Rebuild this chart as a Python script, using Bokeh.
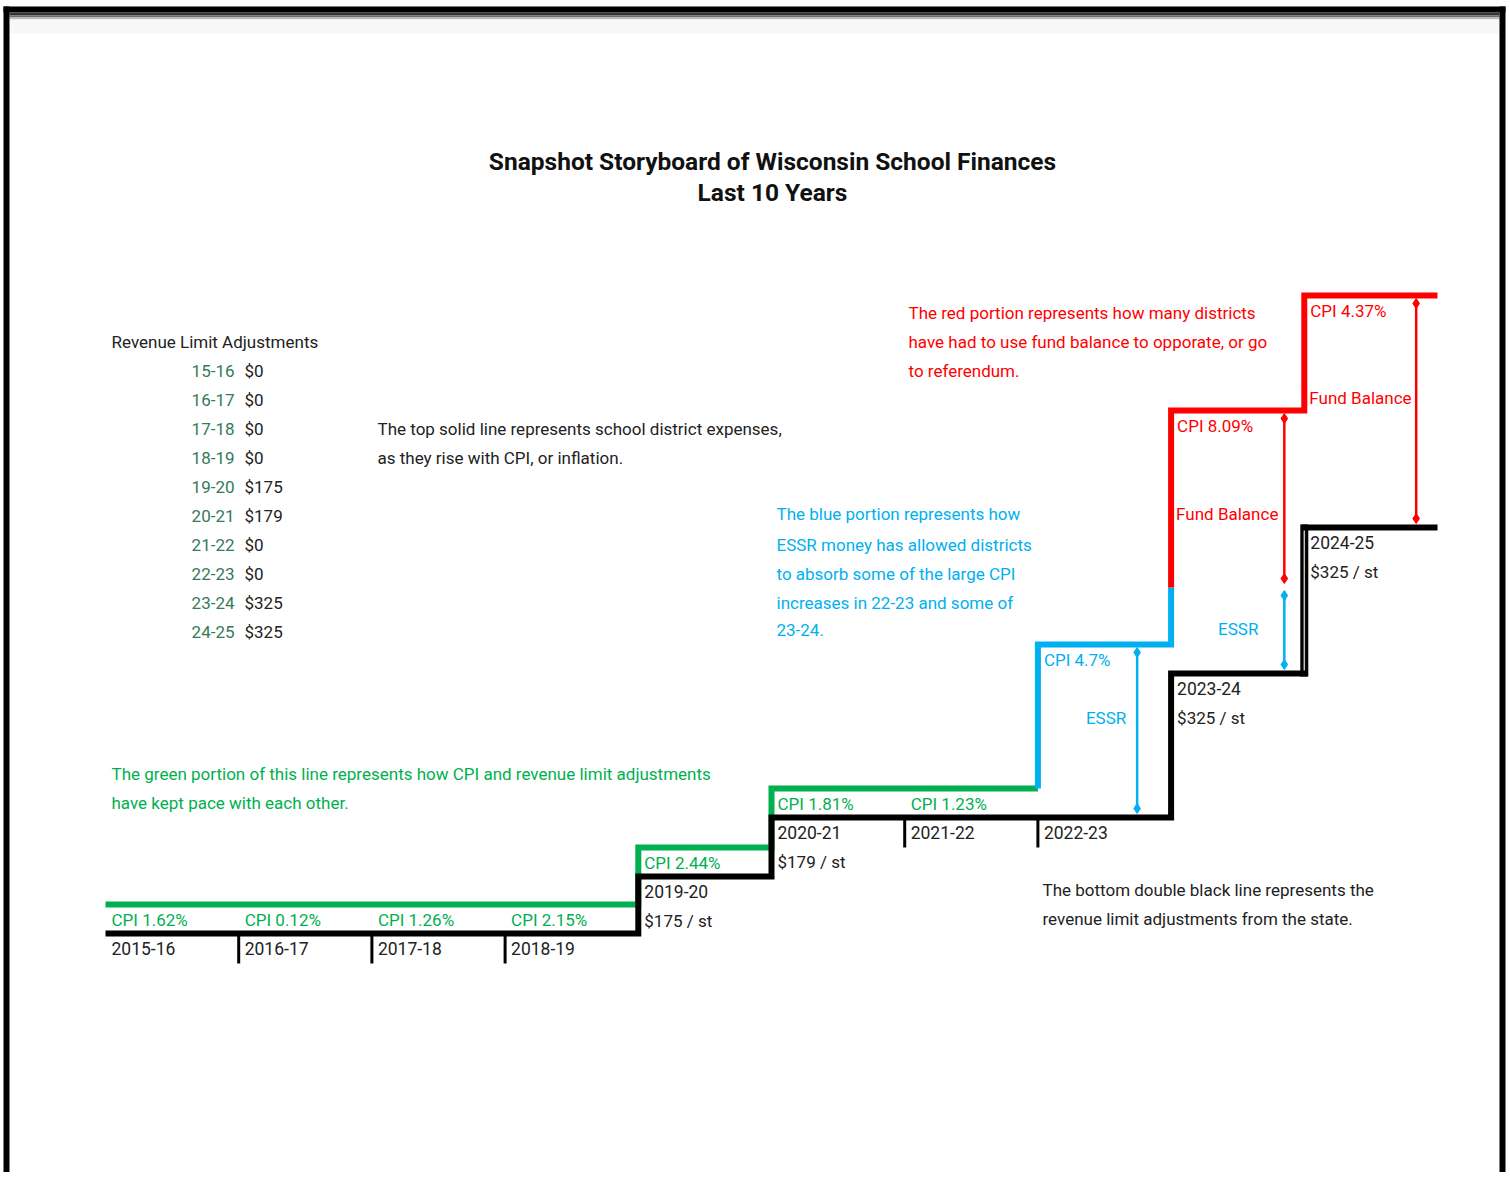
from bokeh.plotting import figure
from bokeh.models import Range1d
from bokeh.embed import file_html
from bokeh.resources import INLINE
from bokeh.core.properties import value

# ---------------- data ----------------
years = ["2015-16", "2016-17", "2017-18", "2018-19", "2019-20",
         "2020-21", "2021-22", "2022-23", "2023-24", "2024-25"]
cpi_labels = ["CPI 1.62%", "CPI 0.12%", "CPI 1.26%", "CPI 2.15%", "CPI 2.44%",
              "CPI 1.81%", "CPI 1.23%", "CPI 4.7%", "CPI 8.09%", "CPI 4.37%"]
adjustment = [0, 0, 0, 0, 175, 179, 0, 0, 325, 325]
# schematic step heights of the two lines (bottom: revenue limit, top: expenses)
revenue_level = [0, 0, 0, 0, 57, 116, 116, 116, 260, 406]
expense_level = [29, 29, 29, 29, 86, 145, 145, 289, 523, 638]
cpi_years = [0, 1, 2, 3, 4, 5, 6]
essr_years = [7, 8]
essr_low = [116, 260]
essr_high = [289, 346]
fund_years = [8, 9]
fund_low = [346, 406]
fund_high = [523, 638]

GREEN = "#00b050"
BLUE = "#00b0f0"
RED = "#ff0000"
BLACK = "#000000"
DARK = "#222222"
TEAL = "#357a5a"
FONT = value("Roboto")

W, H = 1506, 1172
STEP = 133.2      # pixels per school year
X0 = 105          # left edge of first year (px)
Y0 = 933          # baseline of bottom line (px)


def X(page_x):
    return (page_x - X0) / STEP


def Y(page_y):
    return Y0 - page_y


p = figure(width=W, height=H, output_backend="svg", toolbar_location=None,
           x_range=Range1d(X(0), X(W)),
           y_range=Range1d(Y(H), Y(0)),
           min_border=0, background_fill_color="white",
           border_fill_color="white")
p.axis.visible = False
p.grid.visible = False
p.outline_line_color = None

# ---------------- page frame ----------------
def band(x0, x1, y0, y1, color):
    p.quad(left=[X(x0)], right=[X(x1)], top=[Y(y0)], bottom=[Y(y1)],
           fill_color=color, line_color=None)


band(3, 1505, 6, 12, "#000000")
band(9, 1499, 12, 15, "#333333")
band(9, 1499, 15, 17, "#6a6a6a")
band(9, 1499, 17, 19, "#bdbdbd")
band(9, 1499, 19, 33, "#f7f7f7")
band(3, 9, 6, H, "#000000")
band(1499, 1505, 6, H, "#000000")


def step_points(levels, i0, i1):
    xs, ys = [], []
    for i in range(i0, i1):
        xs += [i, i + 1]
        ys += [levels[i], levels[i]]
    return xs, ys


# ---------------- top line (expenses) ----------------
gx, gy = step_points(expense_level, cpi_years[0], cpi_years[-1] + 1)
p.line(gx, gy, line_color=GREEN, line_width=6, line_join="miter")

bx = [essr_years[0], essr_years[0], essr_years[0] + 1, essr_years[1]]
by = [expense_level[essr_years[0] - 1], expense_level[essr_years[0]],
      expense_level[essr_years[0]], essr_high[1]]
p.line(bx, by, line_color=BLUE, line_width=6, line_join="miter")

rx = [fund_years[0], fund_years[0], fund_years[0] + 1, fund_years[1], fund_years[1] + 1]
ry = [fund_low[0], expense_level[fund_years[0]], expense_level[fund_years[0]],
      expense_level[fund_years[1]], expense_level[fund_years[1]]]
p.line(rx, ry, line_color=RED, line_width=6, line_join="miter")

# ---------------- bottom line (revenue limit) ----------------
kx, ky = step_points(revenue_level, 0, len(years))
p.line(kx, ky, line_color=BLACK, line_width=6, line_join="miter")
# double line on the last step
last = len(years) - 1
p.segment(x0=[last], y0=[revenue_level[last - 1] - 3], x1=[last], y1=[revenue_level[last] + 3],
          line_color=BLACK, line_width=8)
p.segment(x0=[last], y0=[revenue_level[last - 1] + 3], x1=[last], y1=[revenue_level[last] - 3],
          line_color="#c4c4c4", line_width=1.5)

# ticks at year boundaries without a step
tick_x = [i for i in range(1, len(years)) if revenue_level[i] == revenue_level[i - 1]]
p.segment(x0=tick_x, y0=[revenue_level[i] for i in tick_x],
          x1=tick_x, y1=[revenue_level[i] - 30 for i in tick_x],
          line_color=BLACK, line_width=3)

# ---------------- arrows ----------------
def arrow(i, frac, lo, hi, color):
    x = i + frac
    p.segment(x0=[x], y0=[lo + 9], x1=[x], y1=[hi - 8], line_color=color, line_width=2.5)
    p.scatter([x, x], [lo + 9, hi - 8], marker="diamond", size=10,
              fill_color=color, line_color=color)


arrow(essr_years[0], 0.745, essr_low[0], essr_high[0], BLUE)
arrow(essr_years[1], 0.85, essr_low[1], essr_high[1], BLUE)
arrow(fund_years[0], 0.85, fund_low[0], fund_high[0], RED)
arrow(fund_years[1], 0.84, fund_low[1], fund_high[1], RED)

# ---------------- labels on the chart ----------------
FS = value("17px")


def txt(x, y, t, color, size=FS, align="left", style="normal", x_offset=0):
    p.text(x=x, y=y, text=t, text_color=color, text_font=FONT, text_font_size=size,
           text_align=align, text_baseline="middle", text_font_style=style,
           x_offset=x_offset)


idx = list(range(len(years)))
txt(idx, [revenue_level[i] - 15 for i in idx], years, DARK, size=value("17.5px"), x_offset=6)
cpi_col = [GREEN if i in cpi_years else (BLUE if i in essr_years and i not in fund_years else RED) for i in idx]
txt(idx, [expense_level[i] - 15 for i in idx], cpi_labels, cpi_col, x_offset=6)
paid = [i for i in idx if adjustment[i] > 0]
txt(paid, [revenue_level[i] - 44 for i in paid], [f"${adjustment[i]} / st" for i in paid], DARK, x_offset=6)

txt([essr_years[0]], [Y(717)], ["ESSR"], BLUE, x_offset=48)
txt([essr_years[1]], [Y(628)], ["ESSR"], BLUE, x_offset=47)
txt([fund_years[0]], [Y(513)], ["Fund Balance"], RED, x_offset=5)
txt([fund_years[1]], [Y(397)], ["Fund Balance"], RED, x_offset=5)

# ---------------- title ----------------
txt([X(772), X(772)], [Y(161), Y(192)],
    ["Snapshot Storyboard of Wisconsin School Finances", "Last 10 Years"],
    "#111111", size=value("24.5px"), align="center", style="bold")

# ---------------- revenue limit table ----------------
txt([X(111)], [Y(341)], ["Revenue Limit Adjustments"], DARK)
rows_y = [Y(370) - 29 * k for k in idx]
txt([X(234)] * len(idx), rows_y, [y[2:] for y in years], TEAL, align="right")
txt([X(244)] * len(idx), rows_y, [f"${a}" for a in adjustment], DARK)

# ---------------- explanatory text ----------------
def block(px, py_list, lines, color):
    txt([X(px)] * len(lines), [Y(v) for v in py_list], lines, color)


block(377, [428, 457], ["The top solid line represents school district expenses,",
                        "as they rise with CPI, or inflation."], DARK)
block(908, [312, 341, 370], ["The red portion represents how many districts",
                             "have had to use fund balance to opporate, or go",
                             "to referendum."], RED)
block(776, [513, 544, 573, 602, 629], ["The blue portion represents how",
                                       "ESSR money has allowed districts",
                                       "to absorb some of the large CPI",
                                       "increases in 22-23 and some of",
                                       "23-24."], BLUE)
block(111, [773, 802], ["The green portion of this line represents how CPI and revenue limit adjustments",
                        "have kept pace with each other."], GREEN)
block(1042, [889, 918], ["The bottom double black line represents the",
                         "revenue limit adjustments from the state."], DARK)

open("out.html", "w").write(file_html(p, INLINE))
